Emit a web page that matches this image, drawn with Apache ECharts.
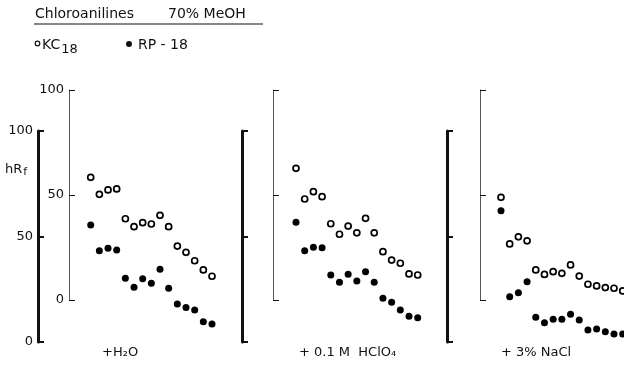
<!DOCTYPE html>
<html>
<head>
<meta charset="utf-8">
<script src="https://cdn.jsdelivr.net/npm/echarts@6/dist/echarts.min.js"></script>
<style>
html,body{margin:0;padding:0;background:#fff;}
#c{width:624px;height:367px;}
</style>
</head>
<body>
<div id="c"></div>
<script>
// compound index (15 chloroanilines, plotted in order)
const compounds = [1,2,3,4,5,6,7,8,9,10,11,12,13,14,15];
const yTicks = [0, 50, 100];

// hRf values, KC18 (open circles)
const kc18_H2O   = [58.4,50.3,52.4,52.9,38.7,34.9,36.8,36.2,40.3,34.9,25.7,22.7,18.7,14.3,11.3];
const kc18_HClO4 = [62.7,48.1,51.6,49.2,36.3,31.3,35.2,32.0,38.9,32.0,23.0,19.0,17.5,12.4,11.9];
const kc18_NaCl  = [48.9,26.7,30.1,28.2,14.3,12.2,13.5,12.7,16.7,11.4,7.5,6.7,5.9,5.6,4.3];

// hRf values, RP-18 (filled circles)
const rp18_H2O   = [55.5,43.3,44.4,43.6,30.2,25.9,30.0,27.8,34.5,25.5,18.0,16.3,15.2,9.6,8.5];
const rp18_HClO4 = [56.7,43.3,44.9,44.7,31.8,28.3,32.1,28.9,33.3,28.3,20.7,18.8,15.2,12.2,11.5];
const rp18_NaCl  = [62.2,21.5,23.4,28.6,11.7,9.1,10.8,10.8,13.1,10.4,5.7,6.2,4.9,3.8,3.8];

const panelLabels = ['+H₂O', '+ 0.1 M  HClO₄', '+ 3% NaCl'];

const FONT = 'DejaVu Sans';
const panels = [
  {left: 90.7, width: 121.3, innerAxisX: 69, outerAxisX: 38, labels: true, kc: kc18_H2O, rp: rp18_H2O},
  {left: 296,  width: 121.7, innerAxisX: 273, outerAxisX: 242, labels: false, kc: kc18_HClO4, rp: rp18_HClO4},
  {left: 501,  width: 121.7, innerAxisX: 480, outerAxisX: 447, labels: false, kc: kc18_NaCl, rp: rp18_NaCl}
];

const grids = [], xAxes = [], yAxes = [], series = [];
panels.forEach((p, i) => {
  // inner (thin) axis grid -> KC18
  grids.push({left: p.left, width: p.width, top: 90, height: 210});
  // outer (thick) axis grid -> RP-18
  grids.push({left: p.left, width: p.width, top: 131, height: 211});
  [0, 1].forEach(k => {
    const gi = i * 2 + k;
    xAxes.push({type: 'value', gridIndex: gi, min: compounds[0], max: compounds[compounds.length - 1], show: false});
    const thick = k === 1;
    yAxes.push({
      type: 'value', gridIndex: gi, min: yTicks[0], max: yTicks[2], interval: yTicks[1] - yTicks[0],
      position: 'left',
      offset: p.left - (thick ? p.outerAxisX : p.innerAxisX),
      splitLine: {show: false},
      axisLine: {show: true, lineStyle: {color: thick ? '#111' : '#555', width: thick ? 3 : 1}},
      axisTick: {show: true, inside: true, length: 6, lineStyle: {color: '#111', width: thick ? 2 : 1}},
      axisLabel: {show: p.labels, color: '#111', fontFamily: FONT, fontSize: 13, margin: 5}
    });
  });
  series.push({
    type: 'scatter', xAxisIndex: i * 2, yAxisIndex: i * 2, clip: false,
    symbol: 'circle', symbolSize: 6,
    itemStyle: {color: '#fff', borderColor: '#000', borderWidth: 1.7, opacity: 1},
    data: compounds.map((c, j) => [c, p.kc[j]])
  });
  series.push({
    type: 'scatter', xAxisIndex: i * 2 + 1, yAxisIndex: i * 2 + 1, clip: false,
    symbol: 'circle', symbolSize: 7,
    itemStyle: {color: '#000', opacity: 1},
    data: compounds.map((c, j) => [c, p.rp[j]])
  });
});

const txt = {fill: '#111', fontFamily: FONT, fontSize: 13};
const big = {fill: '#111', fontFamily: FONT, fontSize: 14};
const graphic = [
  {type: 'text', left: 35, top: 7, style: Object.assign({}, big, {text: 'Chloroanilines'})},
  {type: 'text', left: 168, top: 7, style: Object.assign({}, big, {text: '70% MeOH'})},
  {type: 'line', shape: {x1: 34, y1: 24, x2: 263, y2: 24}, style: {stroke: '#111', lineWidth: 1.2}},
  {type: 'circle', shape: {cx: 37.5, cy: 43.5, r: 2.3}, style: {fill: '#fff', stroke: '#111', lineWidth: 1.2}},
  {type: 'text', left: 42, top: 38, style: {text: '{a|KC}{s|18}', rich: {
    a: {fill: '#111', fontFamily: FONT, fontSize: 14},
    s: {fill: '#111', fontFamily: FONT, fontSize: 13, padding: [10, 0, 0, 1]}
  }}},
  {type: 'circle', shape: {cx: 129, cy: 44, r: 3}, style: {fill: '#111'}},
  {type: 'text', left: 138, top: 38, style: Object.assign({}, big, {text: 'RP - 18'})},
  {type: 'text', left: 5, top: 163, style: {text: '{a|hR}{s|f}', rich: {
    a: {fill: '#111', fontFamily: FONT, fontSize: 13},
    s: {fill: '#111', fontFamily: FONT, fontSize: 11, padding: [6, 0, 0, 1]}
  }}},
  {type: 'text', left: 102, top: 346, style: Object.assign({}, txt, {text: panelLabels[0]})},
  {type: 'text', left: 299, top: 346, style: Object.assign({}, txt, {text: panelLabels[1]})},
  {type: 'text', left: 501, top: 346, style: Object.assign({}, txt, {text: panelLabels[2]})}
];

const chart = echarts.init(document.getElementById('c'), null, {renderer: 'canvas'});
chart.setOption({
  animation: false,
  backgroundColor: '#fff',
  grid: grids, xAxis: xAxes, yAxis: yAxes, series: series, graphic: graphic
});
</script>
</body>
</html>
